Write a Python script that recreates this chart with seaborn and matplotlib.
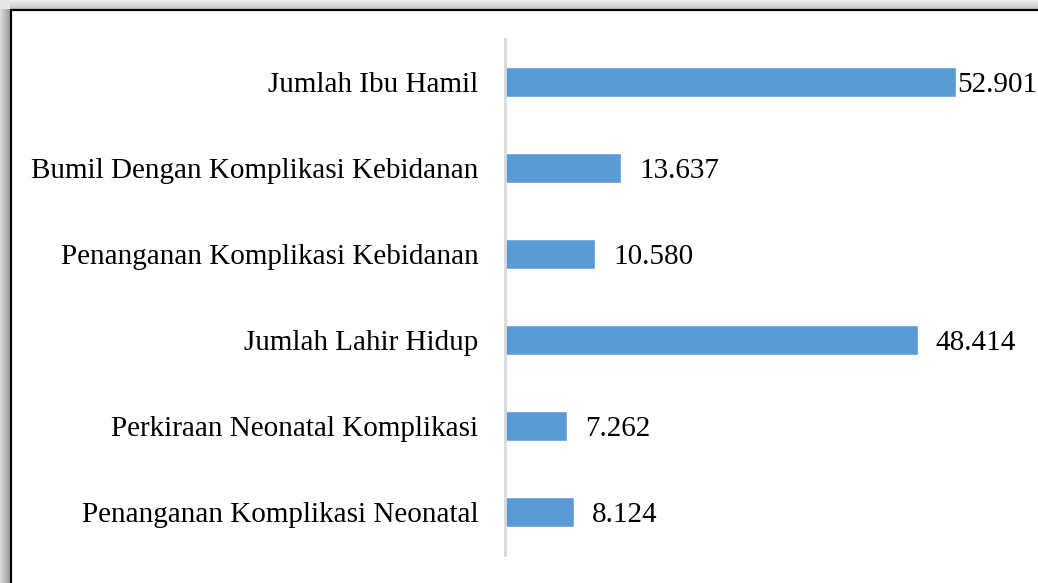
import numpy as np
import pandas as pd
import seaborn as sns
import matplotlib.pyplot as plt

sns.set_theme(style="white")
plt.rcParams["font.family"] = ["Liberation Serif", "DejaVu Serif"]

categories = ["Jumlah Ibu Hamil",
              "Bumil Dengan Komplikasi Kebidanan",
              "Penanganan Komplikasi Kebidanan",
              "Jumlah Lahir Hidup",
              "Perkiraan Neonatal Komplikasi",
              "Penanganan Komplikasi Neonatal"]
values = [52901, 13637, 10580, 48414, 7262, 8124]

W, H = 1038, 583
fig = plt.figure(figsize=(W / 100, H / 100), dpi=100)

# frame with shadow on the left and top
bg = fig.add_axes([0, 0, 1, 1])
img = np.ones((H, W))
left = np.linspace(0.85, 0.62, 10)
top = np.linspace(0.93, 0.78, 9)
img[:, :10] = left
img[:9, 10:] = top[:, None]
img[:9, :10] = 0.9
bg.imshow(img, cmap="gray", vmin=0, vmax=1, aspect="auto",
          extent=(0, W, H, 0))
bg.plot([11, 11], [10, H], color="black", lw=1.6)
bg.plot([11, W], [10, 10], color="black", lw=1.6)
bg.set_xlim(0, W)
bg.set_ylim(H, 0)
bg.axis("off")

ax = fig.add_axes([505 / W, 28 / H, 511.5 / W, 516 / H])
df = pd.DataFrame({"cat": categories, "val": values})
sns.barplot(data=df, y="cat", x="val", color="#5B9BD5", saturation=1,
            width=0.36, ax=ax)
ax.set_xlim(0, 60000)
ax.set_ylim(5.5, -0.5)
ax.set_xlabel("")
ax.set_ylabel("")
ax.set_xticks([])
ax.tick_params(axis="y", length=0, pad=19, labelsize=21, labelcolor="black")
for s in ["top", "right", "bottom"]:
    ax.spines[s].set_visible(False)
ax.spines["left"].set_color("#D9D9D9")
ax.spines["left"].set_linewidth(2)
ax.patch.set_alpha(0)

for i, v in enumerate(values):
    pad = 1 if v == max(values) else 13
    ax.annotate(f"{v:,}".replace(",", "."), (v, i), xytext=(pad, -2),
                textcoords="offset points", va="center", ha="left",
                fontsize=21, color="black")

fig.savefig("out.png", dpi=100)
